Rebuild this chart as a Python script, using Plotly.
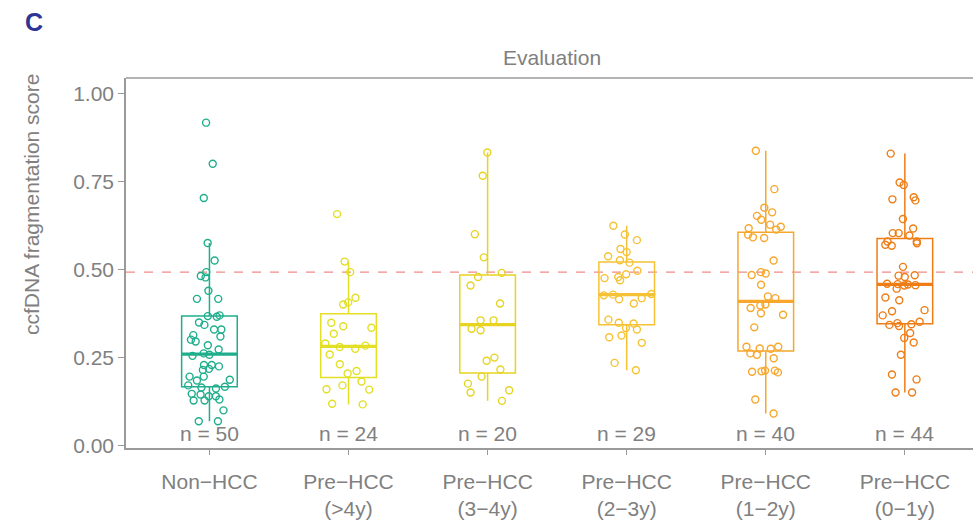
import numpy as np
import plotly.graph_objects as go

# Groups along the x axis
categories = ["Non−HCC", "Pre−HCC<br>(>4y)", "Pre−HCC<br>(3−4y)",
              "Pre−HCC<br>(2−3y)", "Pre−HCC<br>(1−2y)", "Pre−HCC<br>(0−1y)"]

# ccfDNA fragmentation scores per group
non_hcc = [0.918, 0.801, 0.704, 0.576, 0.526, 0.493, 0.482, 0.478, 0.440, 0.417,
           0.417, 0.370, 0.366, 0.368, 0.350, 0.343, 0.330, 0.330, 0.314, 0.301,
           0.310, 0.296, 0.285, 0.273, 0.255, 0.262, 0.258, 0.229, 0.229, 0.225,
           0.218, 0.215, 0.196, 0.196, 0.187, 0.185, 0.171, 0.167, 0.165, 0.162,
           0.147, 0.145, 0.140, 0.140, 0.131, 0.128, 0.128, 0.100, 0.069, 0.069]
pre_4y = [0.658, 0.523, 0.493, 0.420, 0.407, 0.401, 0.349, 0.335, 0.339, 0.318,
          0.284, 0.290, 0.275, 0.280, 0.259, 0.231, 0.212, 0.205, 0.182, 0.171,
          0.160, 0.159, 0.119, 0.117]
pre_3_4y = [0.833, 0.767, 0.601, 0.535, 0.491, 0.479, 0.455, 0.404, 0.356, 0.356,
            0.328, 0.332, 0.250, 0.241, 0.216, 0.196, 0.176, 0.157, 0.151, 0.127]
pre_2_3y = [0.625, 0.600, 0.584, 0.559, 0.550, 0.538, 0.520, 0.527, 0.497, 0.487,
            0.476, 0.479, 0.470, 0.431, 0.427, 0.419, 0.416, 0.429, 0.404, 0.358,
            0.347, 0.349, 0.334, 0.330, 0.313, 0.308, 0.292, 0.235, 0.214]
pre_1_2y = [0.838, 0.729, 0.676, 0.663, 0.653, 0.642, 0.628, 0.622, 0.614, 0.618,
            0.599, 0.590, 0.592, 0.526, 0.493, 0.489, 0.485, 0.457, 0.424, 0.419,
            0.401, 0.398, 0.391, 0.376, 0.372, 0.336, 0.275, 0.281, 0.276, 0.281,
            0.258, 0.262, 0.248, 0.208, 0.210, 0.213, 0.211, 0.213, 0.131, 0.091]
pre_0_1y = [0.830, 0.741, 0.748, 0.706, 0.700, 0.697, 0.644, 0.617, 0.604, 0.604,
            0.597, 0.575, 0.571, 0.568, 0.580, 0.508, 0.484, 0.483, 0.479, 0.456,
            0.460, 0.446, 0.459, 0.458, 0.455, 0.421, 0.413, 0.385, 0.382, 0.370,
            0.352, 0.348, 0.340, 0.343, 0.345, 0.306, 0.320, 0.293, 0.258, 0.202,
            0.188, 0.151, 0.151, 0.580]

groups = [non_hcc, pre_4y, pre_3_4y, pre_2_3y, pre_1_2y, pre_0_1y]
colors = ["#1FAE8C", "#E2DF24", "#E6D421", "#F6C235", "#F6A72C", "#EE7D16"]

# Decision threshold of the fragmentation score
threshold = 0.493

y_ticks = [0.0, 0.25, 0.5, 0.75, 1.0]
y_tick_text = ["0.00", "0.25", "0.50", "0.75", "1.00"]

FONT = "Liberation Sans, Arial, sans-serif"
GREY = "#808080"
AXIS = "#9a9a9a"
FS = 21
BOX_W = 0.4

fig = go.Figure()

for i, (cat, vals, col) in enumerate(zip(categories, groups, colors)):
    fig.add_trace(go.Box(
        x=[cat] * len(vals), y=vals,
        name=cat, width=BOX_W,
        boxpoints="all", jitter=1, pointpos=0,
        quartilemethod="linear", whiskerwidth=0,
        line=dict(color=col, width=1.5),
        fillcolor="rgba(0,0,0,0)",
        marker=dict(symbol="circle-open", size=7, color=col,
                    line=dict(width=1.4, color=col)),
        showlegend=False, hoverinfo="y",
    ))
    # thicker median bar
    med = float(np.median(vals))
    fig.add_shape(type="line", xref="x", yref="y",
                  x0=i - BOX_W / 2, x1=i + BOX_W / 2, y0=med, y1=med,
                  line=dict(color=col, width=3.2), layer="above")
    # sample size labels
    fig.add_annotation(x=cat, y=0.0, yshift=12, text=f"n = {len(vals)}",
                       showarrow=False, font=dict(family=FONT, size=FS, color=GREY))

# threshold line
fig.add_shape(type="line", xref="paper", yref="y", x0=0, x1=1,
              y0=threshold, y1=threshold,
              line=dict(color="#F08A8A", width=1.2, dash="dash"), layer="below")

# top border of the panel
fig.add_shape(type="line", xref="paper", yref="paper", x0=0, x1=1, y0=1, y1=1,
              line=dict(color=AXIS, width=1.5))

# panel letter, strip title and y-axis title
fig.add_annotation(x=-126 / 847, y=1 + 56 / 370, xref="paper", yref="paper",
                   xanchor="left", yanchor="middle", xshift=23,
                   text="<b>C</b>", showarrow=False,
                   font=dict(family=FONT, size=25, color="#2F3494"))
fig.add_annotation(x=0.503, y=1, xref="paper", yref="paper",
                   xanchor="center", yanchor="bottom", yshift=7,
                   text="Evaluation", showarrow=False,
                   font=dict(family=FONT, size=FS, color=GREY))
fig.add_annotation(x=-126 / 847, y=(448 - 205) / 370, xref="paper", yref="paper",
                   xanchor="center", yanchor="middle", xshift=31, textangle=-90,
                   text="ccfDNA fragmentation score", showarrow=False,
                   font=dict(family=FONT, size=FS, color=GREY))

fig.update_layout(
    width=973, height=520,
    margin=dict(l=126, r=0, t=78, b=72),
    paper_bgcolor="white", plot_bgcolor="white",
    boxmode="overlay",
    font=dict(family=FONT, size=FS, color=GREY),
    xaxis=dict(
        type="category", categoryorder="array", categoryarray=categories,
        range=[-0.6, 5.49],
        showline=True, linecolor=AXIS, linewidth=1.5,
        ticks="outside", ticklen=5, tickcolor=AXIS,
        ticklabelstandoff=9,
        showgrid=False, zeroline=False,
        tickfont=dict(family=FONT, size=FS, color=GREY),
    ),
    yaxis=dict(
        range=[-0.007, 1.045],
        tickvals=y_ticks, ticktext=y_tick_text,
        showline=True, linecolor=AXIS, linewidth=1.5,
        ticks="outside", ticklen=6, tickcolor=AXIS,
        showgrid=False, zeroline=False,
        tickfont=dict(family=FONT, size=FS, color=GREY),
    ),
)

fig.write_html("out.html")
